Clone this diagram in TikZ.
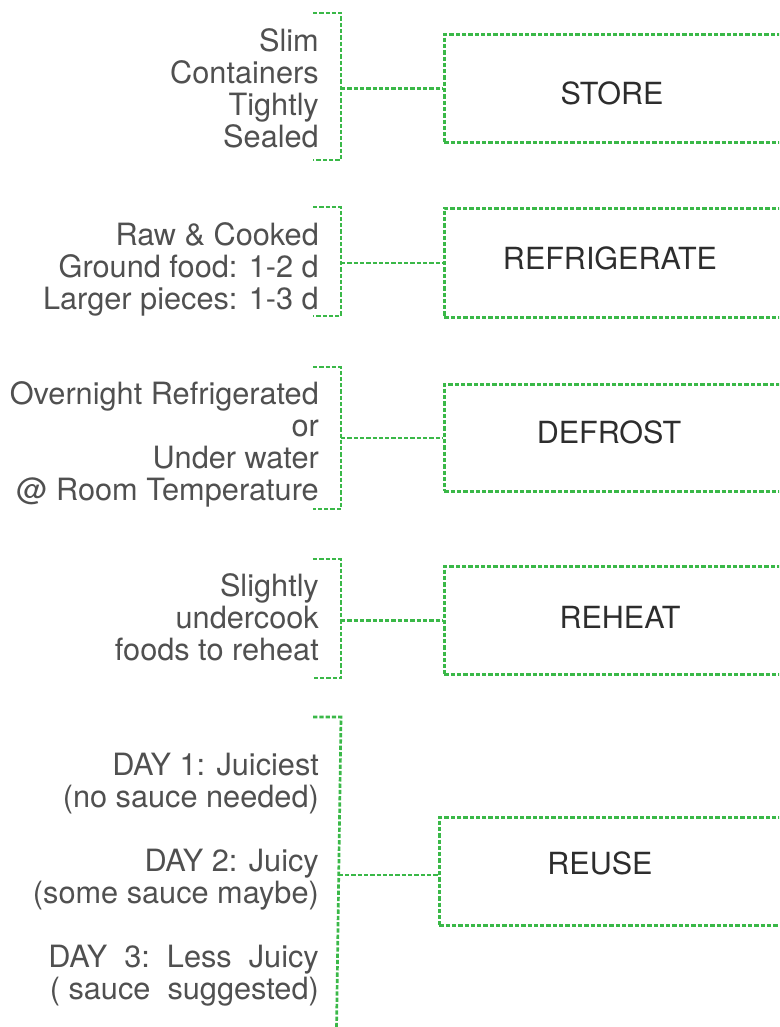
\documentclass[tikz,border=0pt]{standalone}
\usepackage{fontspec}
\setmainfont{TeX Gyre Heros}
\usepackage{tikz}
\definecolor{leafgreen}{RGB}{58,184,72}
\definecolor{notegray}{RGB}{80,80,80}
\definecolor{labelgray}{RGB}{45,45,45}
\tikzset{
  link/.style={leafgreen, line width=2.7pt, dash pattern=on 4.3pt off 2pt},
  stagebox/.style={link, draw, rectangle, minimum width=420pt, anchor=north west, inner sep=0pt},
  stagename/.style={text=labelgray, font=\fontsize{30.5}{32}\selectfont, inner sep=0pt},
  note/.style={text=notegray, font=\fontsize{30.7}{32}\selectfont, align=right, anchor=base east, inner sep=0pt},
}

\begin{document}
\begin{tikzpicture}[x=1pt, y=-1pt]
  \clip (0,0) rectangle (779,1027);

  % Store
  \node[stagebox, minimum height=108pt] (store) at (443,33) {};
  \node[stagename] (storename) at (612,93) {STORE};
  \node[note] (storenote) at (319,148) {Slim\\Containers\\Tightly\\Sealed};
  \coordinate (s1) at (341,13);
  \coordinate (s2) at (341,160);
  \draw[link] ([xshift=-28pt]s1) -- (s1) -- (s2) -- ([xshift=-28pt]s2);
  \draw[link] (store.west -| s1) -- (store.west);

  % Refrigerate
  \node[stagebox, minimum height=109pt] (fridge) at (443,207) {};
  \node[stagename] (fridgename) at (610,258) {REFRIGERATE};
  \node[note] (fridgenote) at (319,309) {Raw \& Cooked\\Ground food: 1-2 d\\Larger pieces: 1-3 d};
  \coordinate (f1) at (341,207);
  \coordinate (f2) at (341,316);
  \draw[link] ([xshift=-28pt]f1) -- (f1) -- (f2) -- ([xshift=-28pt]f2);
  \draw[link] (fridge.west -| f1) -- (fridge.west);

  % Defrost
  \node[stagebox, minimum height=107pt] (thaw) at (443,383) {};
  \node[stagename] (thawname) at (609,432) {DEFROST};
  \node[note] (thawnote) at (319,500) {Overnight Refrigerated\\or\\Under water\\@ Room Temperature};
  \coordinate (d1) at (341,367);
  \coordinate (d2) at (341,509);
  \draw[link] ([xshift=-28pt]d1) -- (d1) -- (d2) -- ([xshift=-28pt]d2);
  \draw[link] (thaw.west -| d1) -- (thaw.west);

  % Reheat
  \node[stagebox, minimum height=108pt] (heat) at (443,565) {};
  \node[stagename] (heatname) at (620,617) {REHEAT};
  \node[note] (heatnote) at (319,660) {Slightly\\undercook\\foods to reheat};
  \coordinate (h1) at (341,559);
  \coordinate (h2) at (341,678);
  \draw[link] ([xshift=-28pt]h1) -- (h1) -- (h2) -- ([xshift=-28pt]h2);
  \draw[link] (heat.west -| h1) -- (heat.west);

  % Reuse
  \node[stagebox, minimum height=108pt] (reuse) at (438,816) {};
  \node[stagename] (reusename) at (600,863) {REUSE};
  \node[note] (reusenote) at (319,999) {DAY 1: Juiciest\\(no sauce needed)\\[32pt]DAY 2: Juicy\\(some sauce maybe)\\[32pt]DAY\ \ 3:\ \ Less\ \ Juicy\\( sauce\ \ suggested)};
  \coordinate (r1) at (341,717);
  \coordinate (r2) at (336.5,1030);
  \coordinate (rj) at (338.7,875);
  \draw[link] ([xshift=-28pt]r1) -- (r1) -- (r2);
  \draw[link] (rj) -- (rj -| reuse.west);
\end{tikzpicture}
\end{document}
